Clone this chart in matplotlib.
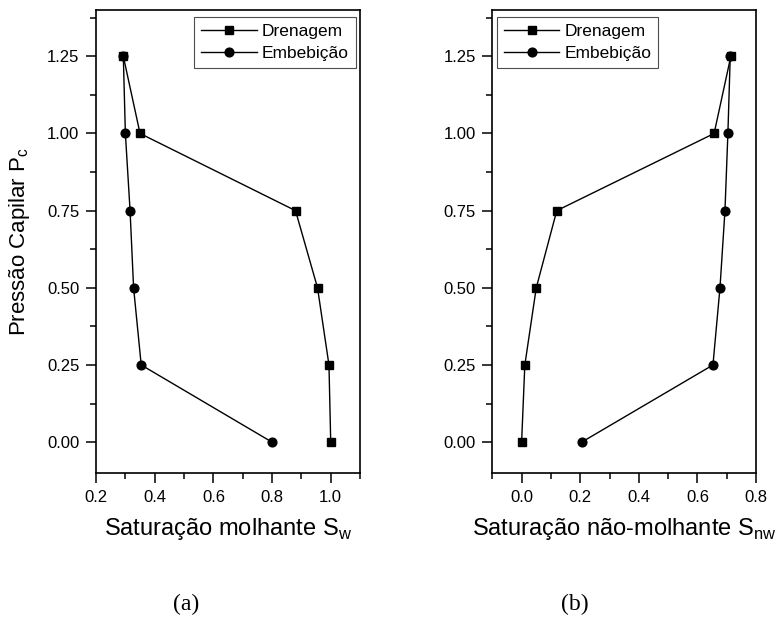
import numpy as np
import matplotlib.pyplot as plt
from matplotlib.ticker import MultipleLocator, FormatStrFormatter

plt.rcParams['font.family'] = ['Liberation Sans', 'DejaVu Sans']
plt.rcParams['mathtext.fontset'] = 'custom'
plt.rcParams['mathtext.rm'] = 'Liberation Sans'

# Pressão capilar (mesma para as duas figuras)
pc = [0.0, 0.25, 0.50, 0.75, 1.00, 1.25]

# (a) saturação molhante
sw_dren = [1.00, 0.994, 0.955, 0.88, 0.35, 0.293]
sw_emb = [0.80, 0.354, 0.328, 0.316, 0.30, 0.293]

# (b) saturação não-molhante
snw_dren = [0.0, 0.011, 0.05, 0.12, 0.657, 0.714]
snw_emb = [0.205, 0.653, 0.677, 0.694, 0.704, 0.712]

fig = plt.figure(figsize=(7.77, 6.18), dpi=100)
ax1 = fig.add_axes([0.1236, 0.2346, 0.3398, 0.7492])
ax2 = fig.add_axes([0.6336, 0.2346, 0.3394, 0.7492])


def style(ax, xlim, xlabel, left_legend):
    ax.set_xlim(*xlim)
    ax.set_ylim(-0.1, 1.4)
    ax.xaxis.set_major_locator(MultipleLocator(0.2))
    ax.xaxis.set_minor_locator(MultipleLocator(0.1))
    ax.yaxis.set_major_locator(MultipleLocator(0.25))
    ax.yaxis.set_minor_locator(MultipleLocator(0.125))
    ax.yaxis.set_major_formatter(FormatStrFormatter('%.2f'))
    ax.xaxis.set_major_formatter(FormatStrFormatter('%.1f'))
    for s in ax.spines.values():
        s.set_linewidth(1.2)
    ax.tick_params(which='major', direction='out', length=7, width=1.1,
                   labelsize=12, pad=5)
    ax.tick_params(which='minor', direction='out', length=4.3, width=1.1)
    ax.set_xlabel(xlabel, fontsize=17, labelpad=8)
    if left_legend:
        loc, anchor = 'upper left', (0.017, 0.985)
    else:
        loc, anchor = 'upper right', (0.984, 0.985)
    leg = ax.legend(loc=loc, bbox_to_anchor=anchor, borderaxespad=0,
                    fontsize=12.5, fancybox=False, edgecolor='0.3', framealpha=1,
                    handlelength=3.2, handletextpad=0.3, labelspacing=0.4,
                    borderpad=0.4, handleheight=0.7)
    leg.get_frame().set_linewidth(0.8)


ax1.plot(sw_dren, pc, color='black', marker='s', markersize=6.3, lw=1, label='Drenagem')
ax1.plot(sw_emb, pc, color='black', marker='o', markersize=6.3, lw=1, label='Embebição')
style(ax1, (0.2, 1.1), 'Saturação molhante S$_\\mathregular{w}$', False)
ax1.set_ylabel('Pressão Capilar P$_\\mathregular{c}$', fontsize=16, labelpad=11)

ax2.plot(snw_dren, pc, color='black', marker='s', markersize=6.3, lw=1, label='Drenagem')
ax2.plot(snw_emb, pc, color='black', marker='o', markersize=6.3, lw=1, label='Embebição')
style(ax2, (-0.1, 0.8), 'Saturação não-molhante S$_\\mathregular{nw}$', True)

fig.text(186 / 777, 1 - 604 / 618, '(a)', family='Liberation Serif', fontsize=17,
         ha='center', va='center')
fig.text(575 / 777, 1 - 604 / 618, '(b)', family='Liberation Serif', fontsize=17,
         ha='center', va='center')

fig.savefig('out.png', dpi=100)
